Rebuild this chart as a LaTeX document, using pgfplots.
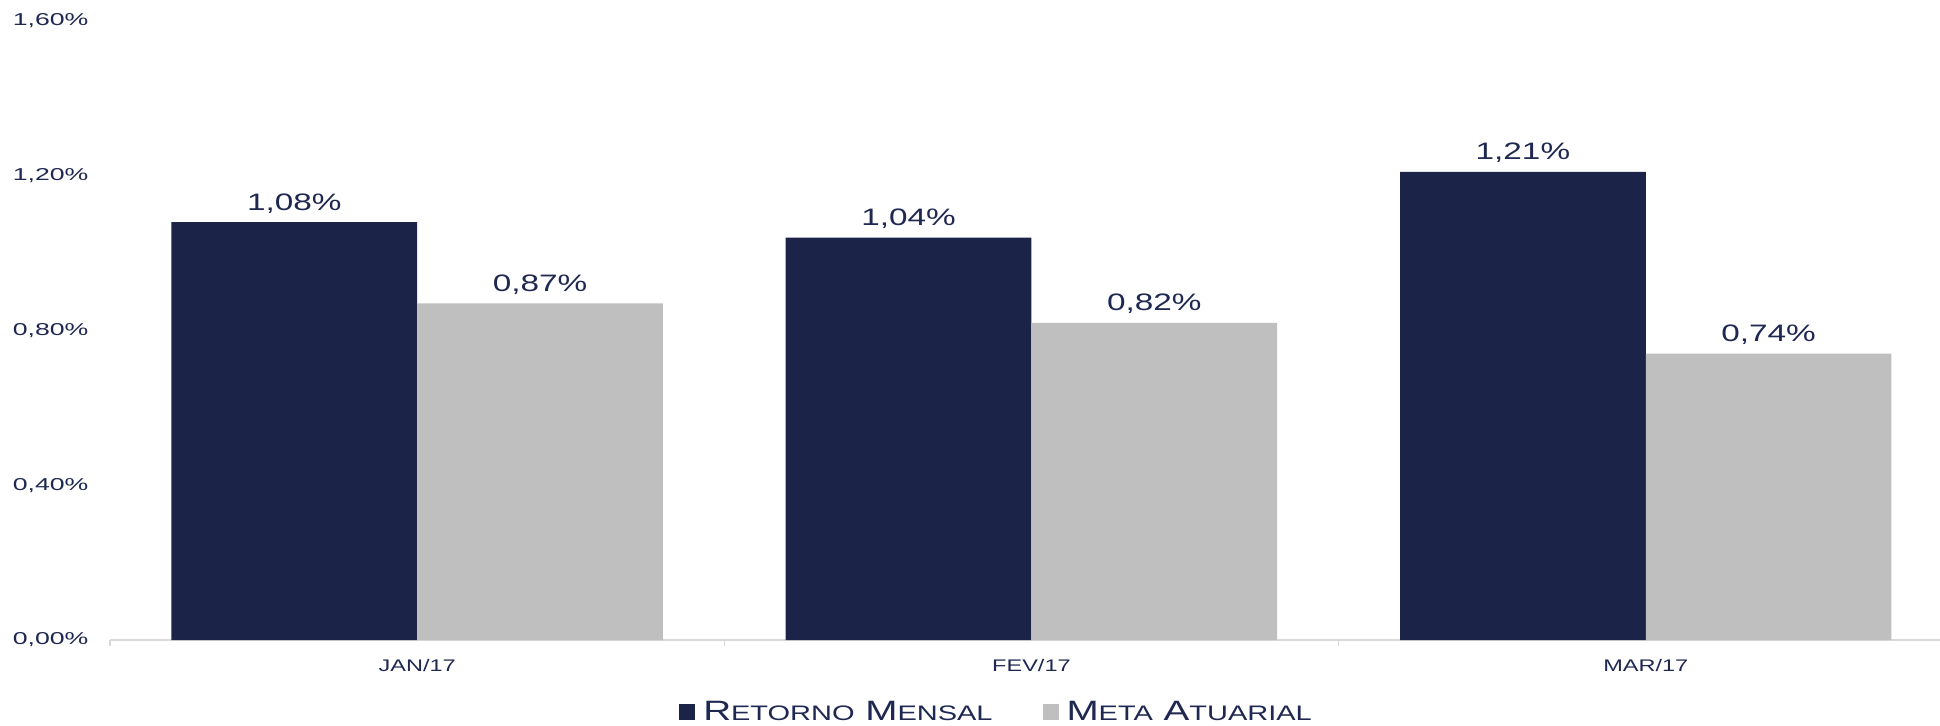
\documentclass[border=0pt]{standalone}
\usepackage{pgfplots}
\pgfplotsset{compat=1.18}
\usepackage{fontspec}
\setmainfont{Liberation Sans}
\newfontfamily\widefont[FakeStretch=1.4]{Liberation Sans}
\newfontfamily\yfont[FakeStretch=1.55]{Liberation Sans}
\newfontfamily\legfont[FakeStretch=1.38]{Liberation Sans}
\definecolor{navy}{HTML}{1B2349}
\definecolor{txt}{HTML}{1F2850}
\definecolor{lgray}{HTML}{BFBFBF}
\definecolor{axgray}{HTML}{D9D9D9}
\begin{document}
\begin{tikzpicture}
\begin{axis}[
  at={(0,0)}, anchor=south west,
  scale only axis,
  width=915pt, height=309.5pt,
  xmin=-0.5, xmax=2.479,
  ymin=0, ymax=1.6,
  ybar=0pt, bar width=0.4,
  axis x line*=bottom,
  axis y line*=left,
  y axis line style={draw=none},
  x axis line style={draw=axgray, line width=0.8pt},
  xtick={0,1,2},
  xticklabels={JAN/17,FEV/17,MAR/17},
  minor xtick={-0.5,0.5,1.5},
  major x tick style={draw=none},
  minor x tick style={draw=axgray, line width=0.8pt},
  minor tick length=3pt,
  tick align=outside,
  ytick={0,0.4,0.8,1.2,1.6},
  ytick style={draw=none},
  yticklabel={\pgfmathprintnumber[fixed,fixed zerofill,precision=2,use comma]{\tick}\%},
  /pgf/number format/assume math mode=true,
  yticklabel style={font=\yfont\fontsize{8.6}{10}\selectfont, text=txt, xshift=-3pt},
  xticklabel style={font=\widefont\fontsize{8.4}{10}\selectfont, text=txt, yshift=-2pt},
  nodes near coords={\pgfmathprintnumber[fixed,fixed zerofill,precision=2,use comma]{\pgfplotspointmeta}\%},
  nodes near coords style={font=\widefont\fontsize{11.9}{14}\selectfont, text=txt, yshift=1pt},
  legend style={at={(0.485,-0.1163)}, anchor=center, draw=none, legend columns=2,
    font=\legfont\fontsize{14}{16}\selectfont, text=txt,
    /tikz/every odd column/.append style={column sep=2pt},
    /tikz/every even column/.append style={column sep=23pt}},
  legend image code/.code={\fill[#1] (0pt,-3.8pt) rectangle (8pt,3.8pt);},
]
\addplot[fill=navy, draw=none] coordinates {(0,1.08) (1,1.04) (2,1.21)};
\addplot[fill=lgray, draw=none] coordinates {(0,0.87) (1,0.82) (2,0.74)};
\legend{R{\fontsize{10.5}{12}\selectfont ETORNO} M{\fontsize{10.5}{12}\selectfont ENSAL},
        M{\fontsize{10.5}{12}\selectfont ETA} A{\fontsize{10.5}{12}\selectfont TUARIAL}}
\end{axis}
\pgfresetboundingbox
\path (-55pt,-42.5pt) rectangle (915pt,320pt);
\end{tikzpicture}
\end{document}
